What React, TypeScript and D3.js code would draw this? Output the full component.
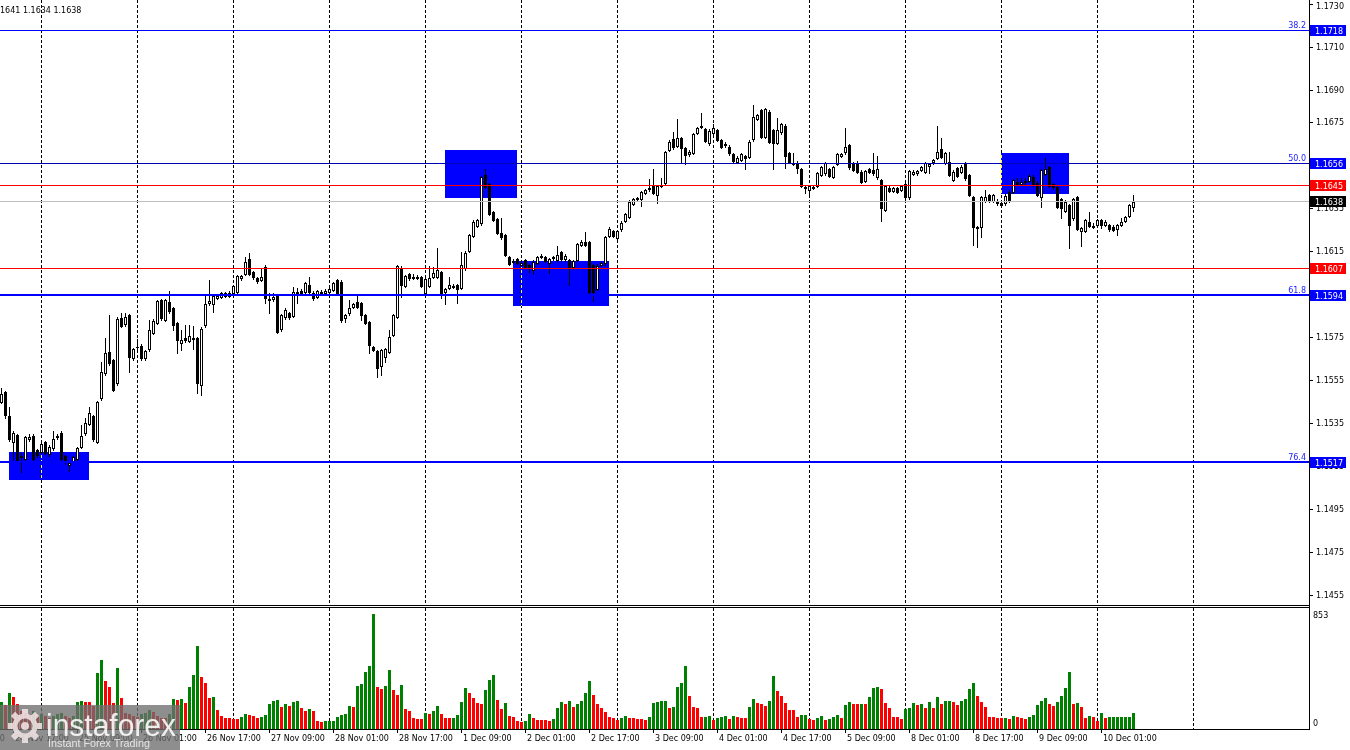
import React from 'react';
import * as d3 from 'd3';

// ---- candle data (EURUSD H1) ----
const OPEN = [
1.1545,1.15494,1.15384,1.15264,1.15295,1.15194,1.15182,1.15275,1.15292,1.15225,
1.15218,1.15264,1.15207,1.15233,1.15284,1.15307,1.15197,1.15156,1.15174,1.15182,
1.15241,1.15303,1.15345,1.15384,1.15264,1.15466,1.15582,1.15683,1.15644,1.15536,
1.15841,1.15812,1.15853,1.15652,1.15703,1.15712,1.15655,1.15694,1.15771,1.15818,
1.15923,1.15833,1.15916,1.15885,1.15815,1.15722,1.15745,1.15734,1.1574,1.15745,
1.15528,1.15807,1.15908,1.15905,1.15934,1.15939,1.15942,1.15943,1.15954,1.15962,
1.16024,1.16044,1.16113,1.16055,1.16027,1.16015,1.16079,1.15927,1.15927,1.15944,
1.15787,1.15843,1.15865,1.15851,1.15959,1.15967,1.15962,1.15993,1.15958,1.15939,
1.1596,1.15958,1.15962,1.1597,1.16017,1.16009,1.15838,1.15861,1.15892,1.15913,
1.15908,1.15854,1.15823,1.15706,1.15688,1.15616,1.1566,1.15683,1.15761,1.15846,
1.16071,1.15989,1.16043,1.16026,1.16032,1.16029,1.15955,1.1599,1.16032,1.16032,
1.16055,1.15962,1.15981,1.1599,1.15993,1.15981,1.16071,1.16153,1.16223,1.16269,
1.1628,1.16505,1.16462,1.16335,1.16299,1.16234,1.16226,1.16125,1.16102,1.16113,
1.16087,1.1611,1.16087,1.16063,1.16098,1.16125,1.16122,1.16094,1.16125,1.1611,
1.16146,1.16113,1.1611,1.16076,1.1611,1.1618,1.16192,1.16192,1.16087,1.15974,
1.16086,1.16094,1.16222,1.16245,1.16214,1.16253,1.16293,1.16312,1.16371,1.16392,
1.16392,1.16423,1.16439,1.16454,1.16412,1.16454,1.1647,1.16622,1.16673,1.1664,
1.16676,1.1663,1.16602,1.1661,1.16702,1.16728,1.16718,1.16653,1.16702,1.16715,
1.16668,1.16643,1.16637,1.16602,1.16568,1.16575,1.16594,1.16591,1.16671,1.16765,
1.16808,1.16684,1.168,1.16715,1.16656,1.16704,1.16735,1.16606,1.16563,1.16563,
1.16532,1.16451,1.16436,1.1645,1.16454,1.16506,1.16513,1.16532,1.16498,1.16557,
1.16594,1.16611,1.16645,1.1656,1.16563,1.16521,1.16479,1.16532,1.16529,1.16495,
1.16482,1.16343,1.16447,1.16433,1.16444,1.16436,1.16462,1.16402,1.1651,1.16513,
1.16529,1.16521,1.16545,1.16564,1.16586,1.16625,1.16563,1.16568,1.16482,1.16537,
1.16521,1.1656,1.16506,1.16402,1.16262,1.16262,1.16386,1.16412,1.16386,1.16386,
1.16374,1.16374,1.16428,1.16428,1.16475,1.16464,1.16475,1.16479,1.16498,1.1647,
1.16402,1.1651,1.16541,1.16464,1.16451,1.16392,1.1634,1.16366,1.16304,1.16402,
1.16247,1.16247,1.16288,1.1627,1.16273,1.16296,1.16273,1.16273,1.16265,1.16253,
1.16273,1.16293,1.16315,1.16355];

const HIGH = [
1.15515,1.155,1.15427,1.15312,1.153,1.1521,1.1529,1.153,1.15301,1.1523,
1.15272,1.1527,1.1525,1.15312,1.153,1.15315,1.15202,1.15172,1.152,1.1524,
1.15342,1.15373,1.15427,1.1539,1.15455,1.15636,1.15745,1.15853,1.1565,1.15845,
1.15864,1.15864,1.1586,1.157,1.1574,1.1572,1.15692,1.15833,1.15835,1.15925,
1.1593,1.1593,1.15965,1.1589,1.1582,1.15784,1.15807,1.15807,1.15802,1.1575,
1.15796,1.15947,1.16016,1.1595,1.1595,1.1596,1.1596,1.15965,1.15995,1.1604,
1.16042,1.16125,1.16144,1.1606,1.16033,1.16066,1.16085,1.15955,1.15958,1.1595,
1.1586,1.15885,1.1587,1.15986,1.15978,1.15973,1.16008,1.16029,1.15965,1.15972,
1.1597,1.15975,1.1598,1.16008,1.16023,1.16015,1.1586,1.15924,1.1591,1.15947,
1.15913,1.1586,1.15828,1.15712,1.15693,1.15696,1.157,1.15784,1.1586,1.16088,
1.1608,1.1604,1.1605,1.16045,1.1604,1.16035,1.16026,1.16082,1.16079,1.16164,
1.1606,1.15979,1.16032,1.16,1.16,1.16148,1.1615,1.16232,1.16294,1.16302,
1.165,1.16532,1.16468,1.1634,1.16305,1.16304,1.16232,1.1613,1.16115,1.1612,
1.16105,1.16115,1.16093,1.16108,1.16128,1.16136,1.16128,1.16119,1.1613,1.16175,
1.16152,1.16136,1.16116,1.16111,1.1619,1.16203,1.16242,1.16198,1.16093,1.1609,
1.16102,1.16221,1.16265,1.16251,1.16251,1.1629,1.1633,1.16387,1.16398,1.16405,
1.16431,1.16442,1.16485,1.16533,1.1646,1.1649,1.16617,1.16667,1.16704,1.16766,
1.16682,1.16636,1.1662,1.16701,1.16729,1.16792,1.16724,1.16718,1.16741,1.16721,
1.16674,1.16657,1.16643,1.16608,1.16592,1.16608,1.166,1.16667,1.16831,1.16791,
1.16814,1.16817,1.16806,1.16721,1.16769,1.16749,1.16741,1.16612,1.1661,1.16569,
1.16538,1.16457,1.1646,1.1646,1.16519,1.16547,1.16566,1.16538,1.16547,1.16608,
1.16609,1.16723,1.16651,1.16566,1.16569,1.16527,1.1653,1.16538,1.1661,1.16596,
1.16488,1.1646,1.16453,1.1645,1.1645,1.1646,1.16468,1.1653,1.1653,1.1653,
1.16547,1.16566,1.16563,1.16581,1.16734,1.16676,1.16612,1.16612,1.16527,1.16543,
1.1655,1.16566,1.16512,1.16408,1.16268,1.16408,1.16436,1.16418,1.16418,1.16392,
1.1638,1.16415,1.16434,1.16488,1.1649,1.1649,1.1649,1.16508,1.16504,1.16476,
1.16535,1.16583,1.16547,1.1647,1.16457,1.16398,1.16387,1.16372,1.16397,1.16408,
1.16263,1.16302,1.16332,1.1628,1.16302,1.16302,1.16294,1.16279,1.16275,1.16279,
1.16304,1.16315,1.16372,1.1641];

const LOW = [
1.15445,1.15373,1.1527,1.15179,1.15175,1.15125,1.1518,1.1527,1.15178,1.15195,
1.1521,1.15205,1.152,1.15228,1.15275,1.15175,1.15163,1.15129,1.1517,1.15175,
1.15235,1.15295,1.1534,1.1527,1.1526,1.1546,1.15575,1.1562,1.155,1.1553,
1.15798,1.15805,1.1559,1.15645,1.15695,1.15645,1.15644,1.15688,1.15765,1.1581,
1.1583,1.15828,1.15865,1.15784,1.15678,1.15691,1.1573,1.1573,1.15698,1.15489,
1.15481,1.158,1.159,1.15869,1.1593,1.15933,1.15936,1.15938,1.1595,1.15955,
1.16018,1.1604,1.16038,1.1602,1.16005,1.1601,1.15908,1.15862,1.1592,1.1577,
1.1578,1.15835,1.15837,1.15845,1.15908,1.15945,1.15955,1.15955,1.15925,1.15933,
1.1595,1.15953,1.15958,1.15965,1.15945,1.15823,1.15823,1.15855,1.15887,1.15887,
1.1583,1.1581,1.15675,1.15685,1.15564,1.15575,1.15637,1.15678,1.15755,1.1584,
1.15939,1.15983,1.16018,1.1602,1.1602,1.15984,1.1595,1.15984,1.16026,1.16026,
1.15931,1.15903,1.15975,1.1598,1.15911,1.15975,1.16065,1.16147,1.16217,1.16263,
1.16275,1.16445,1.16318,1.1629,1.1623,1.16208,1.16127,1.16085,1.16095,1.1609,
1.1608,1.16073,1.16056,1.16043,1.16092,1.1612,1.16101,1.16051,1.16112,1.16104,
1.16107,1.16107,1.15994,1.1607,1.16104,1.16174,1.16174,1.15947,1.15921,1.15968,
1.1608,1.16088,1.16216,1.16216,1.16208,1.16247,1.16287,1.16306,1.16365,1.16385,
1.16363,1.16417,1.16433,1.16417,1.16374,1.16448,1.16464,1.16616,1.16628,1.16634,
1.16563,1.16557,1.16596,1.16604,1.16696,1.16722,1.16658,1.16647,1.16696,1.16662,
1.16631,1.16637,1.166,1.16565,1.16562,1.16569,1.16532,1.16585,1.16665,1.16759,
1.16678,1.16678,1.16655,1.16532,1.1665,1.16698,1.1654,1.16562,1.16551,1.16513,
1.16448,1.1642,1.16408,1.16438,1.16448,1.165,1.16507,1.16495,1.16492,1.16551,
1.16588,1.16605,1.16535,1.16523,1.16515,1.16469,1.16473,1.16515,1.16507,1.16489,
1.16291,1.16337,1.16427,1.16427,1.16422,1.1643,1.16396,1.16396,1.16504,1.16507,
1.16523,1.16515,1.16513,1.16558,1.1658,1.16585,1.16557,1.165,1.16476,1.16496,
1.16515,1.16484,1.16406,1.1618,1.16172,1.16219,1.1638,1.1638,1.1638,1.16368,
1.1636,1.16368,1.1638,1.16422,1.16458,1.16458,1.16465,1.16473,1.16453,1.16406,
1.16358,1.16504,1.16448,1.16442,1.16352,1.16304,1.16334,1.16164,1.16298,1.16248,
1.16175,1.16241,1.16264,1.1626,1.16267,1.16257,1.16267,1.16247,1.16244,1.16226,
1.16267,1.16287,1.16309,1.1634];

const CLOSE = [
1.15486,1.15391,1.15275,1.15303,1.15179,1.15196,1.15284,1.15284,1.15182,1.15202,
1.15252,1.15213,1.15241,1.15275,1.15292,1.15182,1.15174,1.15166,1.15194,1.15233,
1.15292,1.15352,1.15396,1.15275,1.1545,1.1559,1.15675,1.15629,1.15507,1.15836,
1.15804,1.15843,1.1566,1.15695,1.15704,1.15652,1.15686,1.15784,1.15827,1.15919,
1.15838,1.15923,1.15872,1.15807,1.15737,1.15737,1.15737,1.15756,1.15748,1.15536,
1.15791,1.15905,1.15917,1.15942,1.15943,1.15954,1.15954,1.15957,1.15988,1.16035,
1.16035,1.16102,1.16044,1.16029,1.16013,1.1603,1.15931,1.15924,1.15939,1.15776,
1.15854,1.15877,1.15843,1.15962,1.15955,1.15951,1.16001,1.15962,1.15931,1.15965,
1.15955,1.15965,1.15975,1.16001,1.15951,1.1583,1.15854,1.15885,1.15905,1.15892,
1.15854,1.15815,1.15714,1.15691,1.15606,1.15691,1.15695,1.15753,1.15854,1.16082,
1.15993,1.16035,1.16024,1.16033,1.16026,1.1599,1.1602,1.16027,1.16048,1.16063,
1.15955,1.15973,1.15993,1.15986,1.15973,1.16086,1.16144,1.16226,1.16288,1.16296,
1.16494,1.16451,1.16324,1.16296,1.16237,1.16215,1.16133,1.16091,1.16105,1.16097,
1.16098,1.16079,1.16079,1.16102,1.16122,1.1613,1.16107,1.16113,1.16118,1.16133,
1.16113,1.1613,1.16076,1.16105,1.16184,1.16192,1.1618,1.15963,1.15963,1.16084,
1.16094,1.16215,1.16253,1.16222,1.16245,1.16284,1.16324,1.16381,1.16392,1.16397,
1.16425,1.16436,1.16447,1.16423,1.16454,1.16459,1.16611,1.16661,1.16634,1.16676,
1.1663,1.16599,1.16614,1.16695,1.16723,1.16733,1.16664,1.16712,1.16723,1.16668,
1.16637,1.16648,1.16606,1.16571,1.16586,1.16602,1.16583,1.16661,1.16777,1.16785,
1.16684,1.16811,1.16661,1.16656,1.16715,1.16741,1.16594,1.16568,1.16557,1.1654,
1.16454,1.16444,1.16454,1.16444,1.16513,1.16541,1.1656,1.16501,1.16541,1.16602,
1.16603,1.16634,1.16541,1.16529,1.16521,1.16475,1.16524,1.16521,1.16513,1.16532,
1.16354,1.16454,1.16433,1.16444,1.16428,1.16454,1.16402,1.16524,1.16521,1.16524,
1.16541,1.1656,1.16557,1.16575,1.16611,1.16591,1.16606,1.16506,1.16521,1.16502,
1.16544,1.1649,1.16412,1.16262,1.16257,1.16402,1.16405,1.16386,1.16412,1.16374,
1.16366,1.16409,1.16386,1.16482,1.16464,1.16475,1.16478,1.16502,1.16459,1.16412,
1.16529,1.16532,1.16454,1.16448,1.16358,1.16354,1.16381,1.16273,1.16392,1.16254,
1.16257,1.16296,1.1627,1.16265,1.16296,1.16273,1.16288,1.16253,1.1625,1.16273,
1.16288,1.16309,1.16366,1.1638];

const VOLUME = [
202,180,269,239,185,135,122,110,135,97,
110,97,85,97,110,122,97,85,97,202,
209,202,202,172,414,509,359,314,195,454,
232,122,110,97,90,110,122,142,127,97,
85,85,110,224,217,224,195,314,404,614,
382,344,232,239,142,97,82,82,75,75,
90,112,105,97,82,90,105,185,209,212,
165,187,172,202,209,157,135,150,135,60,
52,57,60,62,90,105,112,172,165,322,
337,426,464,853,314,299,322,441,292,254,
329,150,135,82,75,72,120,112,135,172,
112,82,80,85,105,202,307,269,232,195,
187,292,367,404,217,150,195,97,90,60,
52,60,112,82,70,67,65,60,75,157,
202,187,209,165,187,209,269,359,254,187,
157,127,90,82,67,82,97,82,80,77,
75,67,90,195,202,204,207,157,165,314,
344,464,247,165,157,90,92,95,67,82,
90,97,75,97,90,82,80,165,224,195,
187,172,209,396,284,247,195,142,140,90,
105,107,75,67,82,97,67,75,90,105,
82,180,202,182,182,187,182,239,307,314,
299,195,157,90,88,75,150,157,195,180,
187,157,202,157,239,187,209,209,202,180,
209,224,299,344,247,202,165,90,88,82,
80,85,75,97,90,82,75,90,105,180,
209,232,187,172,202,247,307,426,187,195,
165,82,97,90,60,120,82,90,90,90,
90,90,90,120];
const VOL_MAX = 853;

// ---- axes ----
const TIME_LABELS = ['24 Nov 01:00','24 Nov 17:00','25 Nov 09:00','26 Nov 01:00','26 Nov 17:00','27 Nov 09:00',
  '28 Nov 01:00','28 Nov 17:00','1 Dec 09:00','2 Dec 01:00','2 Dec 17:00','3 Dec 09:00','4 Dec 01:00',
  '4 Dec 17:00','5 Dec 09:00','8 Dec 01:00','8 Dec 17:00','9 Dec 09:00','10 Dec 01:00'];
const TIME_LABEL_BARS = [-13,3,19,35,51,67,83,99,115,131,147,163,179,195,211,227,243,259,275];
const GRID_BARS = [10,34,58,82,106,130,154,178,202,226,250,274,298];
const PRICE_TICKS = [1.1730,1.1710,1.1690,1.1675,1.1655,1.1635,1.1615,1.1595,1.1575,1.1555,1.1535,1.1515,1.1495,1.1475,1.1455];

// ---- levels & zones ----
const LEVEL_PRICES = [1.1718, 1.1656, 1.16458, 1.16074, 1.15946, 1.1517, 1.16384];
const LEVEL_TEXT = ['1.1718', '1.1656', '1.1645', '1.1607', '1.1594', '1.1517', '1.1638'];
const LEVEL_COLORS = ['#0000ff', '#0000b4', '#ff0000', '#ff0000', '#0000ff', '#0000ff', '#c0c0c0'];
const LEVEL_WIDTHS = [1, 1, 1, 1, 2, 2, 1];
const LEVEL_BOX = ['#0000ff', '#0000ff', '#ff0000', '#ff0000', '#0000ff', '#0000ff', '#000000'];
const FIB_LABELS = ['38.2', '50.0', '', '', '61.8', '76.4', ''];

const ZONE_FROM = [2, 111, 128, 250];
const ZONE_TO = [22, 129, 152, 267];
const ZONE_TOP = [1.15216, 1.16622, 1.16105, 1.16609];
const ZONE_BOTTOM = [1.15086, 1.16398, 1.15896, 1.16417];

const HEADER = '1641 1.1634 1.1638';

const FONT = 'DejaVu Sans, Verdana, sans-serif';
const AXIS_X = 1309;
const PRICE_BOTTOM = 605;
const VOL_TOP = 607;
const VOL_BOTTOM = 729;

export default function App() {
  const n = OPEN.length;
  const x = d3.scaleLinear().domain([0, 1]).range([1, 5]);
  const y = d3.scaleLinear().domain([1.1517, 1.1718]).range([462, 30]);
  const yv = d3.scaleLinear().domain([0, VOL_MAX]).range([VOL_BOTTOM, 614]);

  const volColors: string[] = [];
  VOLUME.forEach((v, i) => {
    if (i === 0) volColors.push('#008000');
    else if (v > VOLUME[i - 1]) volColors.push('#008000');
    else if (v < VOLUME[i - 1]) volColors.push('#ff0000');
    else volColors.push(volColors[i - 1]);
  });

  const candles = d3.range(n).map((i) => {
    const cx = Math.round(x(i));
    const yo = Math.round(y(OPEN[i]));
    const yc = Math.round(y(CLOSE[i]));
    const yh = Math.round(y(HIGH[i]));
    const yl = Math.round(y(LOW[i]));
    const top = Math.min(yo, yc);
    const bot = Math.max(yo, yc);
    const bull = CLOSE[i] > OPEN[i];
    return (
      <g key={i}>
        <line x1={cx + 0.5} x2={cx + 0.5} y1={yh} y2={yl + 1} stroke="#000" strokeWidth={1} />
        {bull && bot - top >= 2 ? (
          <rect x={cx - 0.5} y={top + 0.5} width={2} height={bot - top} fill="#fff" stroke="#000" strokeWidth={1} />
        ) : (
          <rect x={cx - 1} y={top} width={3} height={bot - top + 1} fill="#000" />
        )}
      </g>
    );
  });

  const vols = VOLUME.map((v, i) => {
    const cx = Math.round(x(i));
    const t = Math.round(yv(v));
    return <rect key={i} x={cx - 1} y={t} width={3} height={VOL_BOTTOM - t} fill={volColors[i]} />;
  });

  const gridStyle: React.CSSProperties = { mixBlendMode: 'difference' };

  return (
    <svg width={1350} height={750} style={{ position: 'fixed', left: 0, top: 0, display: 'block' }}
      fontFamily={FONT} fontSize={8}>
      <rect x={0} y={0} width={1350} height={750} fill="#fff" />

      {/* zones (background objects) */}
      {ZONE_FROM.map((f, i) => {
        const x0 = Math.round(x(f));
        const x1 = Math.round(x(ZONE_TO[i]));
        const y0 = Math.round(y(ZONE_TOP[i]));
        const y1 = Math.round(y(ZONE_BOTTOM[i]));
        return <rect key={i} x={x0} y={y0} width={x1 - x0} height={y1 - y0} fill="#0000ff" />;
      })}

      {/* grid */}
      {GRID_BARS.map((b) => {
        const gx = Math.round(x(b)) + 0.5;
        return (
          <g key={b} style={gridStyle}>
            <line x1={gx} x2={gx} y1={0} y2={PRICE_BOTTOM} stroke="#fff" strokeDasharray="3,2" />
            <line x1={gx} x2={gx} y1={VOL_TOP + 1} y2={VOL_BOTTOM} stroke="#fff" strokeDasharray="3,2" />
          </g>
        );
      })}

      {candles}
      {vols}

      {/* horizontal levels */}
      {LEVEL_PRICES.map((p, i) => {
        const ly = Math.round(y(p));
        const yy = LEVEL_WIDTHS[i] === 1 ? ly + 0.5 : ly;
        return <line key={i} x1={0} x2={AXIS_X} y1={yy} y2={yy} stroke={LEVEL_COLORS[i]} strokeWidth={LEVEL_WIDTHS[i]} />;
      })}
      {LEVEL_PRICES.map((p, i) =>
        FIB_LABELS[i] ? (
          <text key={i} x={1306} y={Math.round(y(p)) - 2} textAnchor="end" fill="#2020ff">{FIB_LABELS[i]}</text>
        ) : null
      )}

      {/* frame */}
      <line x1={0} x2={AXIS_X + 1} y1={PRICE_BOTTOM + 0.5} y2={PRICE_BOTTOM + 0.5} stroke="#000" />
      <line x1={0} x2={AXIS_X + 1} y1={VOL_TOP + 0.5} y2={VOL_TOP + 0.5} stroke="#000" />
      <line x1={0} x2={AXIS_X + 1} y1={VOL_BOTTOM + 0.5} y2={VOL_BOTTOM + 0.5} stroke="#000" />
      <line x1={AXIS_X + 0.5} x2={AXIS_X + 0.5} y1={0} y2={VOL_BOTTOM + 1} stroke="#000" />

      {/* price axis */}
      {PRICE_TICKS.map((p) => {
        const ty = Math.round(y(p));
        return (
          <g key={p}>
            <line x1={AXIS_X} x2={AXIS_X + 4} y1={ty + 0.5} y2={ty + 0.5} stroke="#000" />
            <text x={1316} y={Math.max(ty + 3, 9)} fill="#000">{p.toFixed(4)}</text>
          </g>
        );
      })}
      {LEVEL_PRICES.map((p, i) => {
        const ly = Math.round(y(p));
        return (
          <g key={i}>
            <rect x={1310} y={ly - 5} width={36} height={11} fill={LEVEL_BOX[i]} />
            <text x={1315} y={ly + 3.5} fill="#fff">{LEVEL_TEXT[i]}</text>
          </g>
        );
      })}

      {/* volume axis */}
      <text x={1313} y={618} fill="#000">{VOL_MAX}</text>
      <text x={1313} y={726} fill="#000">0</text>

      {/* time axis */}
      {TIME_LABEL_BARS.map((b, i) => {
        const tx = Math.round(x(b));
        return (
          <g key={b}>
            <line x1={tx + 0.5} x2={tx + 0.5} y1={VOL_BOTTOM} y2={VOL_BOTTOM + 4} stroke="#000" />
            <text x={tx + 2} y={741} fill="#000">{TIME_LABELS[i]}</text>
          </g>
        );
      })}

      {/* header */}
      <text x={0} y={13} fill="#000">{HEADER}</text>

      {/* watermark */}
      <g>
        <rect x={0} y={705} width={180} height={45} fill="#6e6e6e" opacity={0.78} />
        <g transform="translate(25,726)" opacity={0.85}>
          <circle r={10} fill="none" stroke="#f3e6e6" strokeWidth={5} />
          {d3.range(8).map((k) => (
            <rect key={k} x={-3} y={-17} width={6} height={6} fill="#f3e6e6" transform={`rotate(${k * 45})`} />
          ))}
          <circle r={4} fill="#f3e6e6" />
        </g>
        <text x={46} y={736} fontFamily="Liberation Sans, Arial, sans-serif" fontSize={31} fill="#ffffff"
          opacity={0.88} textLength={130} lengthAdjust="spacingAndGlyphs">instaforex</text>
        <text x={48} y={747} fontFamily="Liberation Sans, Arial, sans-serif" fontSize={11} fill="#eeeeee"
          opacity={0.9} textLength={102} lengthAdjust="spacingAndGlyphs">Instant Forex Trading</text>
      </g>
    </svg>
  );
}
